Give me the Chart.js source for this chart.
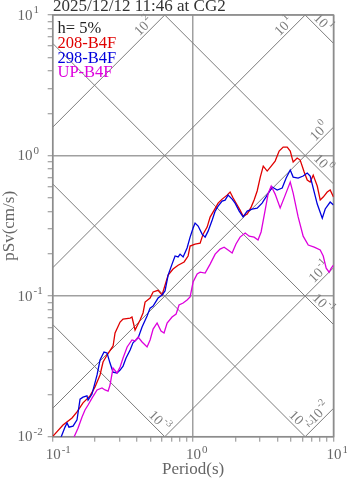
<!DOCTYPE html>
<html>
<head>
<meta charset="utf-8">
<script src="https://cdn.jsdelivr.net/npm/chart.js@4.4.1/dist/chart.umd.min.js"></script>
<style>
  html, body { margin: 0; padding: 0; background: #fff; }
</style>
</head>
<body>
<canvas id="spectrum" width="347" height="478"></canvas>
<script>
// ---- text ----
const TITLE = '2025/12/12 11:46 at CG2';
const DAMPING_LABEL = 'h= 5%';
const SERIES_NAMES = ['208-B4F', '298-B4F', 'UP-B4F'];
const SERIES_COLORS = ['#e00000', '#0000dd', '#dd00dd'];
const X_TITLE = 'Period(s)';
const Y_TITLE = 'pSv(cm/s)';

// ---- axes ----
const X_TICK_EXPONENTS = [-1, 0, 1];
const Y_TICK_EXPONENTS = [-2, -1, 0, 1];
const MANTISSAS = [1, 2, 3, 4, 5, 6, 7, 8, 9];
const ACCEL_LEVELS = [0.01, 0.1, 1, 10, 100];   // cm/s^2
const DISP_LEVELS = [0.001, 0.01, 0.1, 1, 10];  // cm

// ---- data: period (s) / pseudo velocity (cm/s) ----
const T_208 = [0.1005, 0.1184, 0.1373, 0.149, 0.1644, 0.1845, 0.2002, 0.2173, 0.2283, 0.2438,
  0.2692, 0.278, 0.302, 0.317, 0.356, 0.367, 0.386, 0.419, 0.440, 0.455,
  0.494, 0.519, 0.563, 0.601, 0.664, 0.720, 0.782, 0.863, 0.921, 0.952,
  1.033, 1.122, 1.178, 1.259, 1.322, 1.413, 1.507, 1.610, 1.746, 1.835,
  1.928, 2.06, 2.16, 2.27, 2.43, 2.59, 2.72, 2.86, 3.01, 3.16,
  3.37, 3.60, 3.84, 4.10, 4.38, 4.68, 4.92, 5.16, 5.51, 5.79,
  6.18, 6.50, 6.82, 7.17, 7.66, 8.04, 8.45, 9.02, 9.47, 10.0];
const SV_208 = [0.0101, 0.0121, 0.0136, 0.0150, 0.0174, 0.0195, 0.0226, 0.0275, 0.0340, 0.0381,
  0.0442, 0.0547, 0.0654, 0.0687, 0.0698, 0.0710, 0.0574, 0.0676, 0.0759, 0.0908,
  0.0969, 0.107, 0.110, 0.102, 0.141, 0.156, 0.166, 0.175, 0.193, 0.227,
  0.234, 0.238, 0.276, 0.310, 0.365, 0.409, 0.459, 0.490, 0.523, 0.550,
  0.499, 0.445, 0.409, 0.371, 0.384, 0.430, 0.483, 0.560, 0.703, 0.842,
  0.776, 0.842, 0.914, 1.076, 1.148, 1.148, 1.076, 0.899, 0.960, 0.929,
  0.764, 0.670, 0.648, 0.726, 0.607, 0.483, 0.507, 0.550, 0.569, 0.507];

const T_298 = [0.1146, 0.1224, 0.1265, 0.1306, 0.1396, 0.149, 0.1566, 0.1644, 0.1754, 0.1786,
  0.1905, 0.207, 0.2173, 0.232, 0.2438, 0.256, 0.269, 0.287, 0.302, 0.317,
  0.333, 0.356, 0.373, 0.406, 0.433, 0.470, 0.494, 0.519, 0.563, 0.601,
  0.631, 0.664, 0.708, 0.744, 0.782, 0.808, 0.849, 0.906, 0.952, 1.0,
  1.033, 1.086, 1.159, 1.218, 1.279, 1.368, 1.436, 1.507, 1.610, 1.690,
  1.775, 1.897, 1.991, 2.13, 2.27, 2.43, 2.63, 2.86, 3.10, 3.37,
  3.66, 3.97, 4.31, 4.60, 4.92, 5.16, 5.60, 6.08, 6.50, 6.82,
  7.17, 7.66, 8.32, 8.73, 9.47, 10.0];
const SV_298 = [0.0099, 0.0117, 0.0125, 0.0117, 0.0119, 0.0132, 0.0185, 0.0191, 0.0195, 0.0182,
  0.0201, 0.0275, 0.0351, 0.0400, 0.0394, 0.0334, 0.0288, 0.0284, 0.0298, 0.0318,
  0.0363, 0.0414, 0.0465, 0.0504, 0.0603, 0.0721, 0.0822, 0.0851, 0.0969, 0.102,
  0.109, 0.141, 0.169, 0.193, 0.190, 0.199, 0.190, 0.220, 0.263, 0.305,
  0.331, 0.315, 0.276, 0.263, 0.290, 0.348, 0.403, 0.437, 0.474, 0.482,
  0.523, 0.490, 0.459, 0.403, 0.366, 0.403, 0.416, 0.423, 0.459, 0.523,
  0.597, 0.569, 0.587, 0.692, 0.789, 0.703, 0.692, 0.715, 0.751, 0.715,
  0.587, 0.452, 0.359, 0.417, 0.467, 0.445];

const T_UP = [0.1419, 0.1514, 0.1618, 0.1698, 0.1786, 0.1905, 0.207, 0.2244, 0.236, 0.248,
  0.256, 0.269, 0.287, 0.302, 0.317, 0.339, 0.367, 0.386, 0.406, 0.433,
  0.470, 0.494, 0.519, 0.554, 0.591, 0.621, 0.653, 0.708, 0.757, 0.794,
  0.849, 0.906, 0.952, 1.0, 1.069, 1.122, 1.218, 1.322, 1.436, 1.556,
  1.663, 1.775, 1.897, 2.02, 2.16, 2.35, 2.51, 2.72, 2.90, 3.05,
  3.26, 3.43, 3.60, 3.84, 4.17, 4.53, 4.92, 5.16, 5.60, 6.08,
  6.61, 7.29, 8.04, 8.45, 8.87, 9.31, 9.64, 10.0];
const SV_UP = [0.00995, 0.0115, 0.0138, 0.0155, 0.0168, 0.0188, 0.0215, 0.0222, 0.0215, 0.0211,
  0.0233, 0.0308, 0.0284, 0.0313, 0.0363, 0.0435, 0.0488, 0.0480, 0.0512, 0.0472,
  0.0435, 0.0488, 0.0583, 0.0644, 0.0565, 0.0547, 0.0644, 0.0710, 0.0746, 0.0865,
  0.0893, 0.0938, 0.0986, 0.126, 0.144, 0.148, 0.146, 0.169, 0.199, 0.216,
  0.223, 0.213, 0.203, 0.235, 0.263, 0.281, 0.267, 0.263, 0.251, 0.286,
  0.409, 0.541, 0.607, 0.532, 0.424, 0.523, 0.648, 0.541, 0.366, 0.267,
  0.231, 0.223, 0.213, 0.193, 0.158, 0.148, 0.158, 0.166];

// ---- styles ----
const FONT = '"Liberation Serif", "Times New Roman", serif';
const AXIS_GRAY = '#8c8c8c';
const GRID_GRAY = '#a0a0a0';
const DIAG_GRAY = '#7c7c7c';
const LABEL_GRAY = '#666';

const isDecade = v => Math.abs(Math.log10(v) - Math.round(Math.log10(v))) < 1e-6;
const logTicks = exps => {
  const out = [];
  exps.slice(0, -1).forEach(e => MANTISSAS.forEach(m => out.push({ value: m * Math.pow(10, e) })));
  out.push({ value: Math.pow(10, exps[exps.length - 1]) });
  return out;
};
const toPoints = (ts, vs) => ts.map((t, i) => ({ x: t, y: vs[i] }));

// "10" with a raised exponent; x is the left edge of the "10"
function drawPower(ctx, x, y, exp, size, supSize) {
  ctx.textAlign = 'left';
  ctx.font = size + 'px ' + FONT;
  ctx.fillText('10', x, y);
  const w = ctx.measureText('10').width;
  ctx.font = supSize + 'px ' + FONT;
  ctx.fillText(String(exp), x + w + 1, y - size * 0.42);
}
function powerWidth(ctx, exp, size, supSize) {
  ctx.font = size + 'px ' + FONT;
  const w = ctx.measureText('10').width;
  ctx.font = supSize + 'px ' + FONT;
  return w + 1 + ctx.measureText(String(exp)).width;
}

function drawDiagonals(chart) {
  const { ctx, chartArea: a, scales: { x, y } } = chart;
  const TWO_PI = 2 * Math.PI;
  const lines = [];
  ACCEL_LEVELS.forEach(A => {
    const sv = t => A * t / TWO_PI;
    const tExit = Math.min(10, 10 * TWO_PI / A);
    lines.push({ level: A, p0: [0.1, sv(0.1)], p1: [10, sv(10)], exit: [tExit, sv(tExit)],
      back: tExit < 10 ? -23 : -13 });
  });
  DISP_LEVELS.forEach(D => {
    const sv = t => TWO_PI * D / t;
    const tExit = Math.min(10, TWO_PI * D / 0.01);
    lines.push({ level: D, p0: [0.1, sv(0.1)], p1: [10, sv(10)], exit: [tExit, sv(tExit)],
      back: tExit < 10 ? -15 : -22 });
  });

  ctx.save();
  ctx.beginPath();
  ctx.rect(a.left, a.top, a.right - a.left, a.bottom - a.top);
  ctx.clip();
  ctx.strokeStyle = DIAG_GRAY;
  ctx.lineWidth = 1;
  lines.forEach(l => {
    ctx.beginPath();
    ctx.moveTo(x.getPixelForValue(l.p0[0]), y.getPixelForValue(l.p0[1]));
    ctx.lineTo(x.getPixelForValue(l.p1[0]), y.getPixelForValue(l.p1[1]));
    ctx.stroke();
  });
  ctx.restore();

  ctx.save();
  ctx.fillStyle = DIAG_GRAY;
  ctx.textBaseline = 'middle';
  lines.forEach(l => {
    const x0 = x.getPixelForValue(l.p0[0]), y0 = y.getPixelForValue(l.p0[1]);
    const x1 = x.getPixelForValue(l.p1[0]), y1 = y.getPixelForValue(l.p1[1]);
    const len = Math.hypot(x1 - x0, y1 - y0);
    const ux = (x1 - x0) / len, uy = (y1 - y0) / len;
    const ex = x.getPixelForValue(l.exit[0]), ey = y.getPixelForValue(l.exit[1]);
    const cx = ex + l.back * ux + 6.5 * uy;
    const cy = ey + l.back * uy - 6.5 * ux;
    const exp = Math.round(Math.log10(l.level));
    ctx.save();
    ctx.translate(cx, cy);
    ctx.rotate(Math.atan2(uy, ux));
    const w = powerWidth(ctx, exp, 14, 10);
    drawPower(ctx, -w / 2, 0, exp, 14, 10);
    ctx.restore();
  });
  ctx.restore();
}

const overlay = {
  id: 'overlay',
  beforeDatasetsDraw(chart) {
    drawDiagonals(chart);
    const { ctx, chartArea: a } = chart;
    ctx.save();
    ctx.strokeStyle = AXIS_GRAY;
    ctx.lineWidth = 1.5;
    ctx.strokeRect(a.left, a.top, a.right - a.left, a.bottom - a.top);
    ctx.restore();
  },
  afterDraw(chart) {
    const { ctx, chartArea: a, scales: { x, y } } = chart;
    ctx.save();
    ctx.textBaseline = 'alphabetic';

    ctx.fillStyle = LABEL_GRAY;
    X_TICK_EXPONENTS.forEach(e => drawPower(ctx, x.getPixelForValue(Math.pow(10, e)) - 7, 459, e, 15, 11));
    Y_TICK_EXPONENTS.forEach(e => drawPower(ctx, 17.5, y.getPixelForValue(Math.pow(10, e)) + 4.5, e, 15, 11));

    ctx.font = '17px ' + FONT;
    ctx.textAlign = 'center';
    ctx.fillText(X_TITLE, (a.left + a.right) / 2, 474);
    ctx.save();
    ctx.translate(14, (a.top + a.bottom) / 2);
    ctx.rotate(-Math.PI / 2);
    ctx.fillText(Y_TITLE, 0, 0);
    ctx.restore();

    ctx.textAlign = 'left';
    ctx.fillStyle = '#333';
    ctx.fillText(TITLE, 53, 11);

    ctx.font = '16.5px ' + FONT;
    ctx.fillStyle = '#222';
    ctx.fillText(DAMPING_LABEL, 57.5, 33);
    SERIES_NAMES.forEach((name, i) => {
      ctx.fillStyle = SERIES_COLORS[i];
      ctx.fillText(name, 57.5, 48 + i * 14.7);
    });
    ctx.restore();
  }
};

const axisGrid = {
  color: c => (c.tick && isDecade(c.tick.value)) ? GRID_GRAY : 'rgba(0,0,0,0)',
  lineWidth: 1.5,
  tickColor: AXIS_GRAY,
  tickLength: 5,
  tickWidth: 1
};

new Chart(document.getElementById('spectrum'), {
  type: 'scatter',
  data: {
    datasets: [
      { label: SERIES_NAMES[0], data: toPoints(T_208, SV_208), borderColor: SERIES_COLORS[0], order: 3 },
      { label: SERIES_NAMES[1], data: toPoints(T_298, SV_298), borderColor: SERIES_COLORS[1], order: 2 },
      { label: SERIES_NAMES[2], data: toPoints(T_UP, SV_UP), borderColor: SERIES_COLORS[2], order: 1 }
    ].map(d => Object.assign(d, { showLine: true, pointRadius: 0, borderWidth: 1.3, fill: false, tension: 0 }))
  },
  options: {
    responsive: false,
    devicePixelRatio: 1,
    animation: false,
    layout: { padding: { top: 15, right: 13.5, left: 0, bottom: 0 } },
    plugins: { legend: { display: false }, title: { display: false }, tooltip: { enabled: false } },
    scales: {
      x: {
        type: 'logarithmic', min: 0.1, max: 10,
        afterBuildTicks: s => { s.ticks = logTicks(X_TICK_EXPONENTS); },
        afterFit: s => { s.height = 41.3; },
        ticks: { display: false },
        grid: axisGrid,
        border: { display: false }
      },
      y: {
        type: 'logarithmic', min: 0.01, max: 10,
        afterBuildTicks: s => { s.ticks = logTicks(Y_TICK_EXPONENTS); },
        afterFit: s => { s.width = 52.7; },
        ticks: { display: false },
        grid: axisGrid,
        border: { display: false }
      }
    }
  },
  plugins: [overlay]
});
</script>
</body>
</html>
